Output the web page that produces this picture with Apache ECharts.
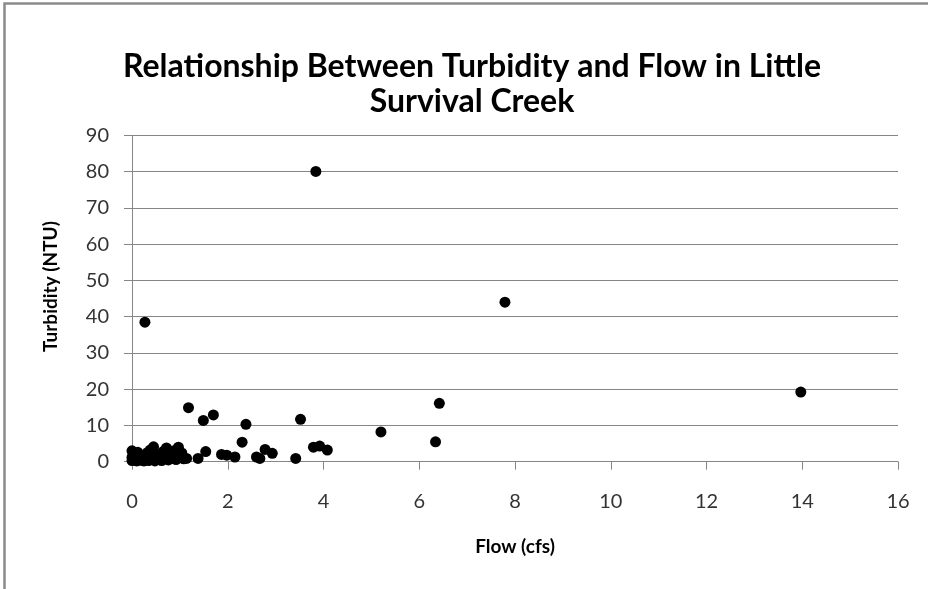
<!DOCTYPE html>
<html>
<head>
<meta charset="utf-8">
<script src="https://cdn.jsdelivr.net/npm/echarts@6/dist/echarts.min.js"></script>
<style>
  html, body { margin: 0; padding: 0; background: #fff; }
  #chart { width: 928px; height: 589px; }
</style>
</head>
<body>
<div id="chart"></div>
<script>
// flow (cfs) and turbidity (NTU)
const flow = [
  0, 0, 0, 0.03, 0.05, 0.08, 0.1, 0.12, 0.15, 0.18, 0.2, 0.22, 0.25, 0.3, 0.32, 0.35, 0.38, 0.42,
  0.45, 0.48, 0.5, 0.55, 0.58, 0.62, 0.65, 0.7, 0.72, 0.76, 0.8, 0.85, 0.88, 0.92, 0.97, 1.0,
  1.04, 1.08, 1.14,
  0.27, 1.18, 1.38, 1.49, 1.54, 1.70, 1.87, 1.98, 2.15, 2.30, 2.38, 2.60, 2.67, 2.78, 2.93,
  3.42, 3.52, 3.79, 3.84, 3.92, 4.08, 5.20, 6.34, 6.42, 7.79, 13.97
]
const turbidity = [
  0.3, 1.2, 3.0, 2.0, 0.5, 1.5, 0.2, 2.6, 1.0, 0.4, 1.8, 0.8, 0.2, 1.3, 2.5, 0.3, 3.2, 1.0,
  4.1, 0.2, 2.2, 0.6, 1.5, 0.3, 2.8, 1.2, 3.8, 0.5, 2.0, 1.0, 3.0, 0.6, 4.0, 1.5,
  2.4, 0.8, 0.9,
  38.5, 14.9, 0.9, 11.4, 2.8, 12.9, 2.0, 1.8, 1.3, 5.4, 10.3, 1.3, 0.9, 3.4, 2.3,
  0.9, 11.7, 4.0, 80.1, 4.3, 3.2, 8.2, 5.5, 16.1, 44.0, 19.2
]
const points = flow.map((x, i) => [x, turbidity[i]])

const chart = echarts.init(document.getElementById('chart'))
const gray = '#868686'
const textColor = '#333'
const font = 'Lato'

chart.setOption({
  animation: false,
  backgroundColor: '#fff',
  title: {
    text: 'Relationship Between Turbidity and Flow in Little\nSurvival Creek',
    left: 472,
    textAlign: 'center',
    top: 49,
    padding: 0,
    textStyle: { fontFamily: font, fontWeight: 'bold', fontSize: 32, lineHeight: 35, color: '#000' }
  },
  grid: { left: 132, right: 30, top: 135.5, bottom: 127.3 },
  xAxis: {
    type: 'value', min: 0, max: 16, interval: 2,
    name: 'Flow (cfs)', nameLocation: 'middle', nameGap: 76,
    nameTextStyle: { fontFamily: font, fontWeight: 'bold', fontSize: 19, color: '#000' },
    axisLine: { show: true, lineStyle: { color: gray, width: 1 } },
    axisTick: { show: true, length: 8, lineStyle: { color: gray } },
    axisLabel: { margin: 30, fontFamily: font, fontSize: 20, color: textColor },
    splitLine: { show: false }
  },
  yAxis: {
    type: 'value', min: 0, max: 90, interval: 10,
    name: 'Turbidity (NTU)', nameLocation: 'middle', nameGap: 72, nameRotate: 90,
    nameTextStyle: { fontFamily: font, fontWeight: 'bold', fontSize: 19, color: '#000', padding: [0, 0, 0, 24] },
    axisLine: { show: true, lineStyle: { color: gray, width: 1 } },
    axisTick: { show: true, length: 8, lineStyle: { color: gray } },
    axisLabel: { margin: 23, fontFamily: font, fontSize: 20, color: textColor },
    splitLine: { show: true, lineStyle: { color: gray, width: 1 } }
  },
  series: [{
    type: 'scatter',
    data: points,
    symbol: 'circle',
    symbolSize: 11,
    itemStyle: { color: '#000', opacity: 1 }
  }],
  graphic: [{
    type: 'polyline',
    silent: true,
    shape: { points: [[4.5, 589], [4.5, 3.5], [928, 3.5]] },
    style: { stroke: '#8a8a8a', lineWidth: 2.5, fill: null }
  }]
})
</script>
</body>
</html>
